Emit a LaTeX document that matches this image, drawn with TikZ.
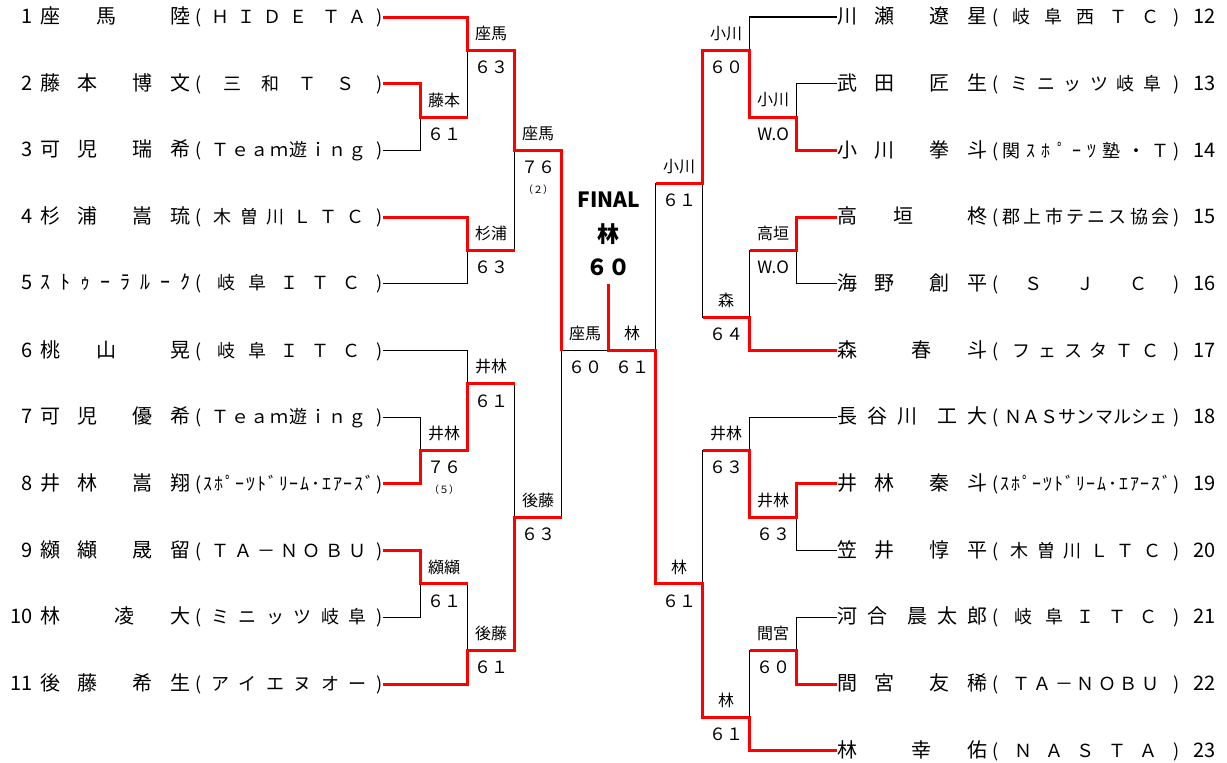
\documentclass[tikz,border=0pt]{standalone}
\usepackage{fontspec}
\setmainfont{Noto Sans CJK JP}
\usetikzlibrary{calc,positioning}
\definecolor{winred}{HTML}{FF0000}
\makeatletter
% spread the slots of #1 over the box, {} = one more gap
\newcommand{\spread}[1]{\expandafter\spread@#1\@nil}
\def\spread@#1#2\@nil{#1\if\relax\detokenize{#2}\relax\else\hfill\spread@#2\@nil\fi}
\makeatother
\newcommand{\lplayer}[4]{\makebox[12pt][r]{#1}\hspace{4pt}\makebox[75pt]{\spread{#2}}\hspace{2.5pt}{\fontsize{9}{11}\selectfont(\makebox[87.5pt]{\hspace{#4}\spread{#3}\hspace{#4}})}}
\newcommand{\rplayer}[4]{\makebox[75pt]{\spread{#2}}\hspace{2.5pt}{\fontsize{9}{11}\selectfont(\makebox[87.5pt]{\hspace{#4}\spread{#3}\hspace{#4}})}\hspace{7pt}\makebox[12pt][l]{#1}}

\begin{document}
\begin{tikzpicture}[x=0.5pt,y=-0.5pt,
  plyr/.style={inner sep=0pt,font=\fontsize{10}{12}\selectfont},
  bline/.style={line width=0.65pt,black},
  rline/.style={line width=1.5pt,winred},
  lbl/.style={inner sep=1pt,font=\fontsize{8}{9}\selectfont,yshift=8.5pt},
  scr/.style={inner sep=1pt,font=\fontsize{8.5}{9}\selectfont,yshift=-8.5pt},
  note/.style={inner sep=1pt,font=\fontsize{5}{6}\selectfont}]
\useasboundingbox (0,0) rectangle (1227,762);
% players
\foreach \n/\nm/\tm/\pd in {1/座{}馬{}{}陸/ＨＩＤＥ{}ＴＡ/5pt, 2/藤本{}博文/三和ＴＳ/11pt, 3/可児{}瑞希/Ｔｅａｍ遊ｉｎｇ/5pt, 4/杉浦{}嵩琉/木曽川ＬＴＣ/6pt, 5/ｽﾄｩｰﾗﾙｰｸ/岐阜ＩＴＣ/8pt, 6/桃{}山{}{}晃/岐阜ＩＴＣ/8pt, 7/可児{}優希/Ｔｅａｍ遊ｉｎｇ/5pt, 8/井林{}嵩翔/ｽﾎﾟｰﾂﾄﾞﾘｰﾑ･ｴｱｰｽﾞ/1pt, 9/纐纈{}晟留/ＴＡ－ＮＯＢＵ/5pt, 10/林{}{}凌{}大/ミニッツ岐阜/5pt, 11/後藤{}希生/アイエヌオー/5pt}
  \node[plyr,anchor=east] (l\n) at (383,{17+66.7*(\n-1)}) {\lplayer{\n}{\nm}{\tm}{\pd}};
\foreach \n/\nm/\tm/\pd in {12/川瀬{}遼星/岐阜西ＴＣ/7pt, 13/武田{}匠生/ミニッツ岐阜/6pt, 14/小川{}拳斗/関ｽﾎﾟｰﾂ塾・Ｔ/2pt, 15/高{}垣{}{}柊/郡上市テニス協会/2pt, 16/海野{}創平/ＳＪＣ/13pt, 17/森{}{}春{}斗/フェスタＴＣ/7pt, 18/長谷川{}工大/ＮＡＳサンマルシェ/3pt, 19/井林{}秦斗/ｽﾎﾟｰﾂﾄﾞﾘｰﾑ･ｴｱｰｽﾞ/1pt, 20/笠井{}惇平/木曽川ＬＴＣ/6pt, 21/河合{}晨太郎/岐阜ＩＴＣ/8pt, 22/間宮{}友稀/ＴＡ－ＮＯＢＵ/7pt, 23/林{}{}幸{}佑/ＮＡＳＴＡ/8pt}
  \node[plyr,anchor=west] (r\n) at (837,{17+66.7*(\n-12)}) {\rplayer{\n}{\nm}{\tm}{\pd}};
% match points
\coordinate (A) at (420.7,117.05);
\coordinate (B) at (467.7,50.35);
\coordinate (C) at (467.7,250.45);
\coordinate (D) at (514.7,150.4);
\coordinate (E) at (420.7,450.55);
\coordinate (F) at (467.7,383.85);
\coordinate (G) at (420.7,583.95);
\coordinate (H) at (467.7,650.65);
\coordinate (I) at (514.7,517.25);
\coordinate (J) at (561.7,350.5);
\coordinate (fin) at (608.7,350.5);
\coordinate (top) at (608.7,284);
\coordinate (Z) at (655.7,350.5);
\coordinate (T) at (702.7,183.75);
\coordinate (Y) at (702.7,583.95);
\coordinate (Q) at (749.7,50.35);
\coordinate (S) at (749.7,317.15);
\coordinate (V) at (749.7,450.55);
\coordinate (X) at (749.7,717.35);
\coordinate (P) at (796.7,117.05);
\coordinate (R) at (796.7,250.45);
\coordinate (U) at (796.7,517.25);
\coordinate (W) at (796.7,650.65);
% bracket
\foreach \a/\b in {l1.east/B, l2.east/A, l3.east/A, A/B, l4.east/C, l5.east/C, B/D, C/D, l6.east/F, l7.east/E, l8.east/E, E/F, l9.east/G, l10.east/G, G/H, l11.east/H, F/I, H/I, D/J, I/J, J/Z, r12.west/Q, r13.west/P, r14.west/P, P/Q, r15.west/R, r16.west/R, R/S, r17.west/S, Q/T, S/T, r18.west/V, r19.west/U, r20.west/U, U/V, r21.west/W, r22.west/W, W/X, r23.west/X, V/Y, X/Y, T/Z, Y/Z}
  \draw[bline] (\a) -| (\b);
% winners
\draw[rline] (l2.east) -| (A) -- (A -| B);
\draw[rline] (l1.east) -| (B) -| (D) -| (J);
\draw[rline] (l4.east) -| (C) -- (C -| D);
\draw[rline] (l8.east) -| (E) -| (F) -- (F -| I);
\draw[rline] (l9.east) -| (G) -- (G -| H);
\draw[rline] (l11.east) -| (H) -| (I) -- (I -| J);
\draw[rline] (r14.west) -| (P) -| (Q) -| (T) -- (T -| Z);
\draw[rline] (r15.west) -| (R) -- (R -| S);
\draw[rline] (r17.west) -| (S) -- (S -| T);
\draw[rline] (r19.west) -| (U) -| (V) -- (V -| Y);
\draw[rline] (r22.west) -| (W) -- (W -| X);
\draw[rline] (r23.west) -| (X) -| (Y) -| (Z) -- (fin) -- (top);
% names and scores
\foreach \m/\nx/\w/\s in {A/B/藤本/６１, B/D/座馬/６３, C/D/杉浦/６３, D/J/座馬/７６, E/F/井林/７６, F/I/井林/６１, G/H/纐纈/６１, H/I/後藤/６１, I/J/後藤/６３, J/fin/座馬/６０, Z/fin/林/６１, P/Q/小川/W.O, Q/T/小川/６０, R/S/高垣/W.O, S/T/森/６４, T/Z/小川/６１, U/V/井林/６３, V/Y/井林/６３, W/X/間宮/６０, X/Y/林/６１, Y/Z/林/６１}
  {\node[lbl] (w\m) at ($(\m)!.5!(\m-|\nx)$) {\w};
   \node[scr] (s\m) at ($(\m)!.5!(\m-|\nx)$) {\s};}
\node[note,below=3pt of sD] (tbD) {（２）};
\node[note,below=3pt of sE] (tbE) {（５）};
\node[font=\fontsize{10.5}{12}\selectfont\bfseries] (ftitle) at (608.7,200) {FINAL};
\node[font=\fontsize{11}{12}\selectfont\bfseries] (fname) at (608.7,234) {林};
\node[font=\fontsize{11}{12}\selectfont\bfseries] (fscore) at (608.7,267) {６０};
\end{tikzpicture}
\end{document}
